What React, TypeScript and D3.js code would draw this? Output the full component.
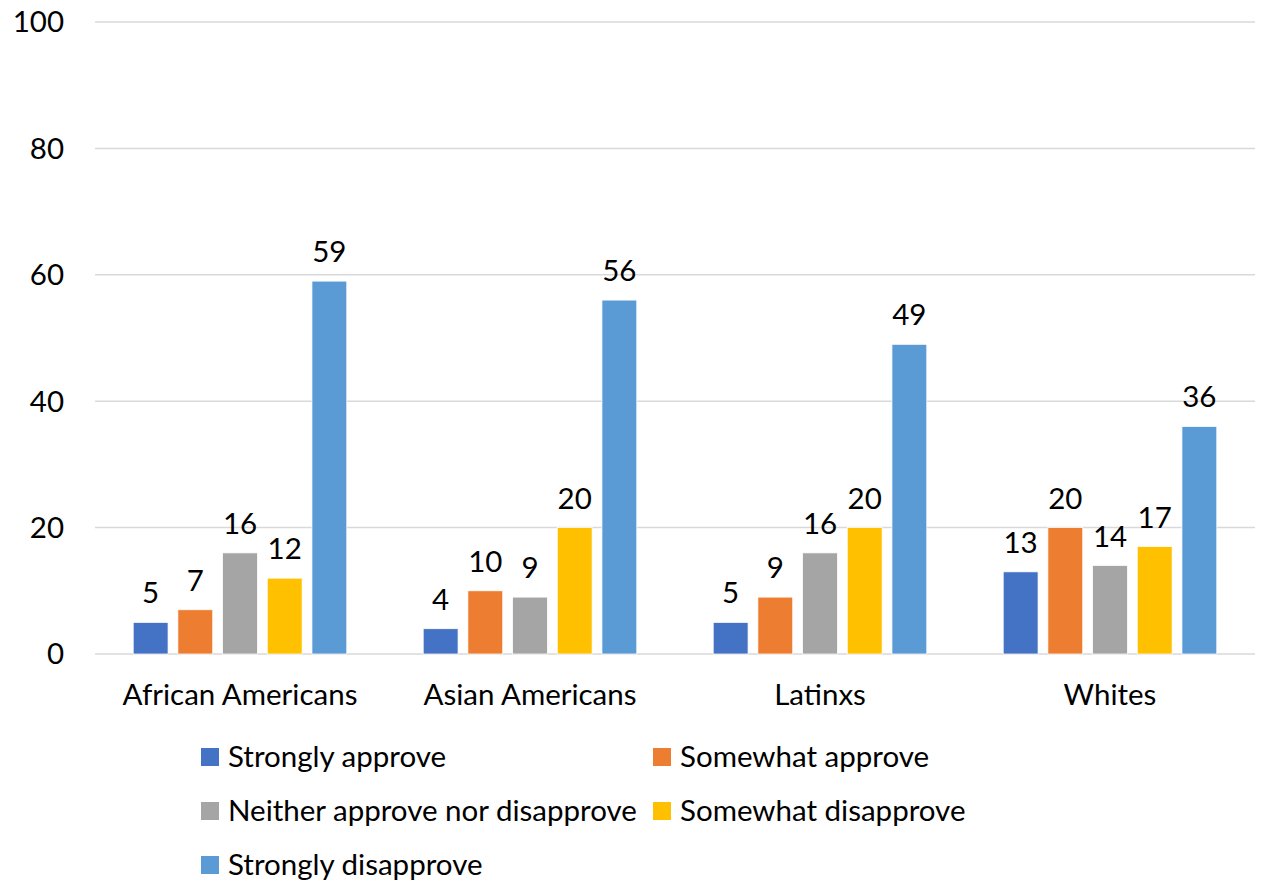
import React from "react";
import * as d3 from "d3";

const categories = ["African Americans", "Asian Americans", "Latinxs", "Whites"];
const seriesNames = [
  "Strongly approve",
  "Somewhat approve",
  "Neither approve nor disapprove",
  "Somewhat disapprove",
  "Strongly disapprove",
];
const stronglyApprove = [5, 4, 5, 13];
const somewhatApprove = [7, 10, 9, 20];
const neither = [16, 9, 16, 14];
const somewhatDisapprove = [12, 20, 20, 17];
const stronglyDisapprove = [59, 56, 49, 36];
const colors = ["#4472C4", "#ED7D31", "#A5A5A5", "#FFC000", "#5B9BD5"];
const yTicks = [0, 20, 40, 60, 80, 100];

const seriesValues = [stronglyApprove, somewhatApprove, neither, somewhatDisapprove, stronglyDisapprove];

export default function App() {
  const W = 1264, H = 881;
  const left = 95, right = 1255, top = 22, bottom = 654;
  const font = "Lato, 'Noto Sans', sans-serif";
  const fs = 29.5;

  const y = d3.scaleLinear().domain([0, 100]).range([bottom, top]);
  const x0 = d3.scaleBand().domain(categories).range([left, right]).paddingInner(0).paddingOuter(0);
  const x1 = d3
    .scaleBand()
    .domain(seriesNames)
    .range([0, x0.bandwidth()])
    .paddingInner(0.22)
    .paddingOuter(0.855);

  const legendItems = [
    { i: 0, x: 201, y: 757 },
    { i: 1, x: 653, y: 757 },
    { i: 2, x: 201, y: 811 },
    { i: 3, x: 653, y: 811 },
    { i: 4, x: 201, y: 865 },
  ];

  return (
    <svg width={W} height={H} style={{ position: "absolute", left: 0, top: 0, background: "#fff" }} fontFamily={font}>
      {yTicks.map((t) => (
        <g key={t}>
          <line x1={left} x2={right} y1={y(t)} y2={y(t)} stroke="#D9D9D9" strokeWidth={1.5} />
          <text x={64} y={y(t)} dy="0.35em" textAnchor="end" fontSize={fs} fill="#000">
            {t}
          </text>
        </g>
      ))}
      {categories.map((c, ci) => (
        <g key={c} transform={`translate(${x0(c)},0)`}>
          {seriesNames.map((s, si) => {
            const v = seriesValues[si][ci];
            const bx = x1(s)!;
            return (
              <g key={s}>
                <rect
                  x={bx}
                  y={y(v)}
                  width={x1.bandwidth()}
                  height={y(0) - y(v)}
                  fill={colors[si]}
                  stroke="#fff"
                  strokeWidth={0.75}
                />
                <text
                  x={bx + x1.bandwidth() / 2}
                  y={y(v) - 19}
                  textAnchor="middle"
                  fontSize={fs}
                  fill="#000"
                >
                  {v}
                </text>
              </g>
            );
          })}
          <text x={x0.bandwidth() / 2} y={695} dy="0.35em" textAnchor="middle" fontSize={fs} fill="#000">
            {c}
          </text>
        </g>
      ))}
      {legendItems.map(({ i, x, y: ly }) => (
        <g key={i}>
          <rect x={x} y={ly - 9} width={18} height={18} fill={colors[i]} />
          <text x={x + 27} y={ly} dy="0.35em" fontSize={fs} fill="#000">
            {seriesNames[i]}
          </text>
        </g>
      ))}
    </svg>
  );
}
